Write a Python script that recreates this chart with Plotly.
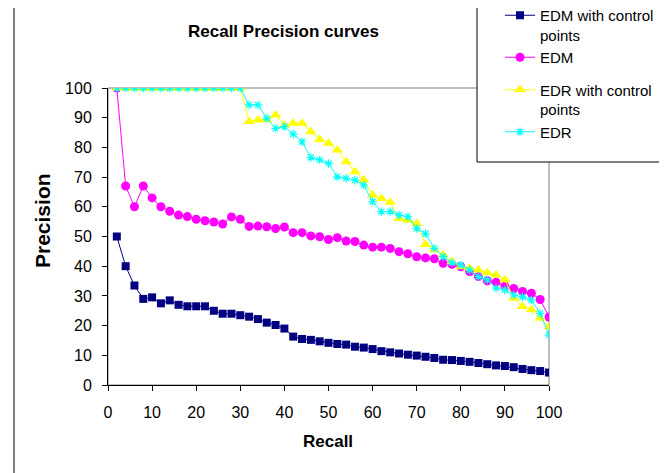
import plotly.graph_objects as go

# recall positions (every 2 %)
recall = list(range(2, 101, 2))

edm_cp = [50, 40, 33.5, 29, 29.5, 27.5, 28.5, 27, 26.5, 26.5,
          26.5, 25, 24, 24, 23.5, 23, 22.2, 21, 20.2, 19,
          16.3, 15.5, 15.2, 14.7, 14.2, 13.8, 13.6, 12.9, 12.6, 12.1,
          11.4, 11, 10.6, 10.2, 9.9, 9.5, 9.1, 8.5, 8.4, 8.1,
          7.8, 7.4, 7.0, 6.6, 6.4, 6.0, 5.4, 5.0, 4.7, 4.2]

edm = [100, 67, 60, 67, 63, 60, 58.5, 57.2, 56.7, 55.8,
       55.3, 54.9, 54.2, 56.6, 55.8, 53.4, 53.5, 53.3, 52.7, 53.2,
       51.3, 51.3, 50.2, 49.9, 49.0, 49.6, 48.5, 48.3, 47.1, 46.4,
       46.4, 46.0, 44.9, 44.2, 43.2, 42.8, 42.5, 41.0, 40.6, 39.8,
       38.2, 36.5, 35.1, 34.6, 33.3, 32.5, 31.5, 30.9, 28.8, 22.9]

edr_cp = [100] * 15 + [88.7, 89.2, 89.4, 90.9, 87.5,
                       88.1, 88.1, 85.3, 82.7, 81.4, 79.1, 75.2, 71.8, 69, 64,
                       62.8, 61.5, 56.1, 55.5, 54.4, 47.3, 45.5, 43.8, 41.5, 39.8,
                       39.3, 38.7, 37.8, 37, 35.4, 29.2, 26.4, 25.3, 22.5, 19.6]

edr = [100] * 15 + [94.3, 94.3, 89.8, 86.4, 87,
                    84.5, 81.9, 76.6, 75.8, 74.6, 70.1, 69.6, 69, 67.3, 61.7,
                    58.4, 58.4, 57.2, 56.7, 52.7, 51, 46, 43.2, 41.2, 40.4,
                    38.7, 36.5, 35.4, 32.6, 32, 30.3, 29.7, 28.6, 24.1, 16.8]

# page has an 8px body margin, so the figure is shrunk and shifted to fit
OFF = 8
W, H = 667 - OFF, 473 - OFF
L, T = 108 - OFF, 88 - OFF
PW, PH = 441, 297
R, B = W - L - PW, H - T - PH


def px_x(p):
    # page pixel -> paper coordinate
    return (p - OFF - L) / PW


def px_y(p):
    return (T + PH - (p - OFF)) / PH


FONT = "Liberation Sans, Arial, sans-serif"

fig = go.Figure()

fig.add_trace(go.Scatter(
    x=recall, y=edm_cp, name="EDM with control<br>points", mode="lines+markers",
    line=dict(color="#000080", width=1),
    marker=dict(symbol="square", size=8, color="#000080"),
    legendgroup="a"))
fig.add_trace(go.Scatter(
    x=recall, y=edm, name="EDM", mode="lines+markers",
    line=dict(color="#FF00FF", width=1),
    marker=dict(symbol="circle", size=9, color="#FF00FF"),
    legendgroup="a"))
fig.add_trace(go.Scatter(
    x=recall, y=edr_cp, name="EDR with control<br>points", mode="lines+markers",
    line=dict(color="#FFFF00", width=1),
    marker=dict(symbol="triangle-up", size=10, color="#FFFF00"),
    legendgroup="b"))
fig.add_trace(go.Scatter(
    x=recall, y=edr, name="EDR", mode="lines+markers",
    line=dict(color="#00FFFF", width=1),
    marker=dict(symbol="asterisk-open", size=7, line=dict(color="#00FFFF", width=1.2)),
    legendgroup="b"))

shapes = [
    # plot area border (grey)
    dict(type="rect", xref="x domain", yref="y domain", x0=0, x1=1, y0=0, y1=1,
         line=dict(color="#808080", width=1), layer="below"),
    # outer chart frame
    dict(type="rect", xref="paper", yref="paper",
         x0=px_x(14), x1=px_x(700), y0=px_y(490), y1=px_y(7),
         line=dict(color="#000000", width=1)),
    # legend box
    dict(type="rect", xref="paper", yref="paper",
         x0=px_x(477), x1=px_x(700), y0=px_y(162), y1=px_y(-5),
         line=dict(color="#000000", width=1), fillcolor="white", layer="above"),
]

annotations = [
    dict(text="<b>Recall Precision curves</b>", xref="paper", yref="paper",
         x=px_x(283), y=px_y(32), xanchor="center", yanchor="middle", showarrow=False,
         font=dict(size=17, color="black", family=FONT)),
    dict(text="<b>Recall</b>", xref="paper", yref="paper", x=px_x(328), y=px_y(441),
         xanchor="center", yanchor="middle", showarrow=False,
         font=dict(size=17, color="black", family=FONT)),
    dict(text="<b>Precision</b>", xref="paper", yref="paper", x=px_x(42), y=px_y(221),
         xanchor="center", yanchor="middle", textangle=-90, showarrow=False,
         font=dict(size=21, color="black", family=FONT)),
]

fig.update_layout(
    width=W, height=H,
    margin=dict(l=L, r=R, t=T, b=B, autoexpand=False),
    paper_bgcolor="white", plot_bgcolor="white",
    font=dict(family=FONT, color="black"),
    shapes=shapes,
    annotations=annotations,
    legend=dict(x=px_x(500), y=px_y(-1), xanchor="left", yanchor="top",
                bgcolor="rgba(0,0,0,0)", borderwidth=0, valign="top",
                tracegroupgap=10, font=dict(size=15, color="black")),
)

fig.update_xaxes(range=[0, 100], dtick=10, showgrid=False, zeroline=False,
                 showline=True, linecolor="black", linewidth=1,
                 ticks="outside", ticklen=5, tickcolor="black",
                 ticklabelstandoff=8, tickfont=dict(size=16, color="black"))
fig.update_yaxes(range=[0, 100], dtick=10, showgrid=False, zeroline=False,
                 showline=True, linecolor="black", linewidth=1,
                 ticks="outside", ticklen=5, tickcolor="black",
                 ticklabelstandoff=7, tickfont=dict(size=16, color="black"))

fig.write_html("out.html")
